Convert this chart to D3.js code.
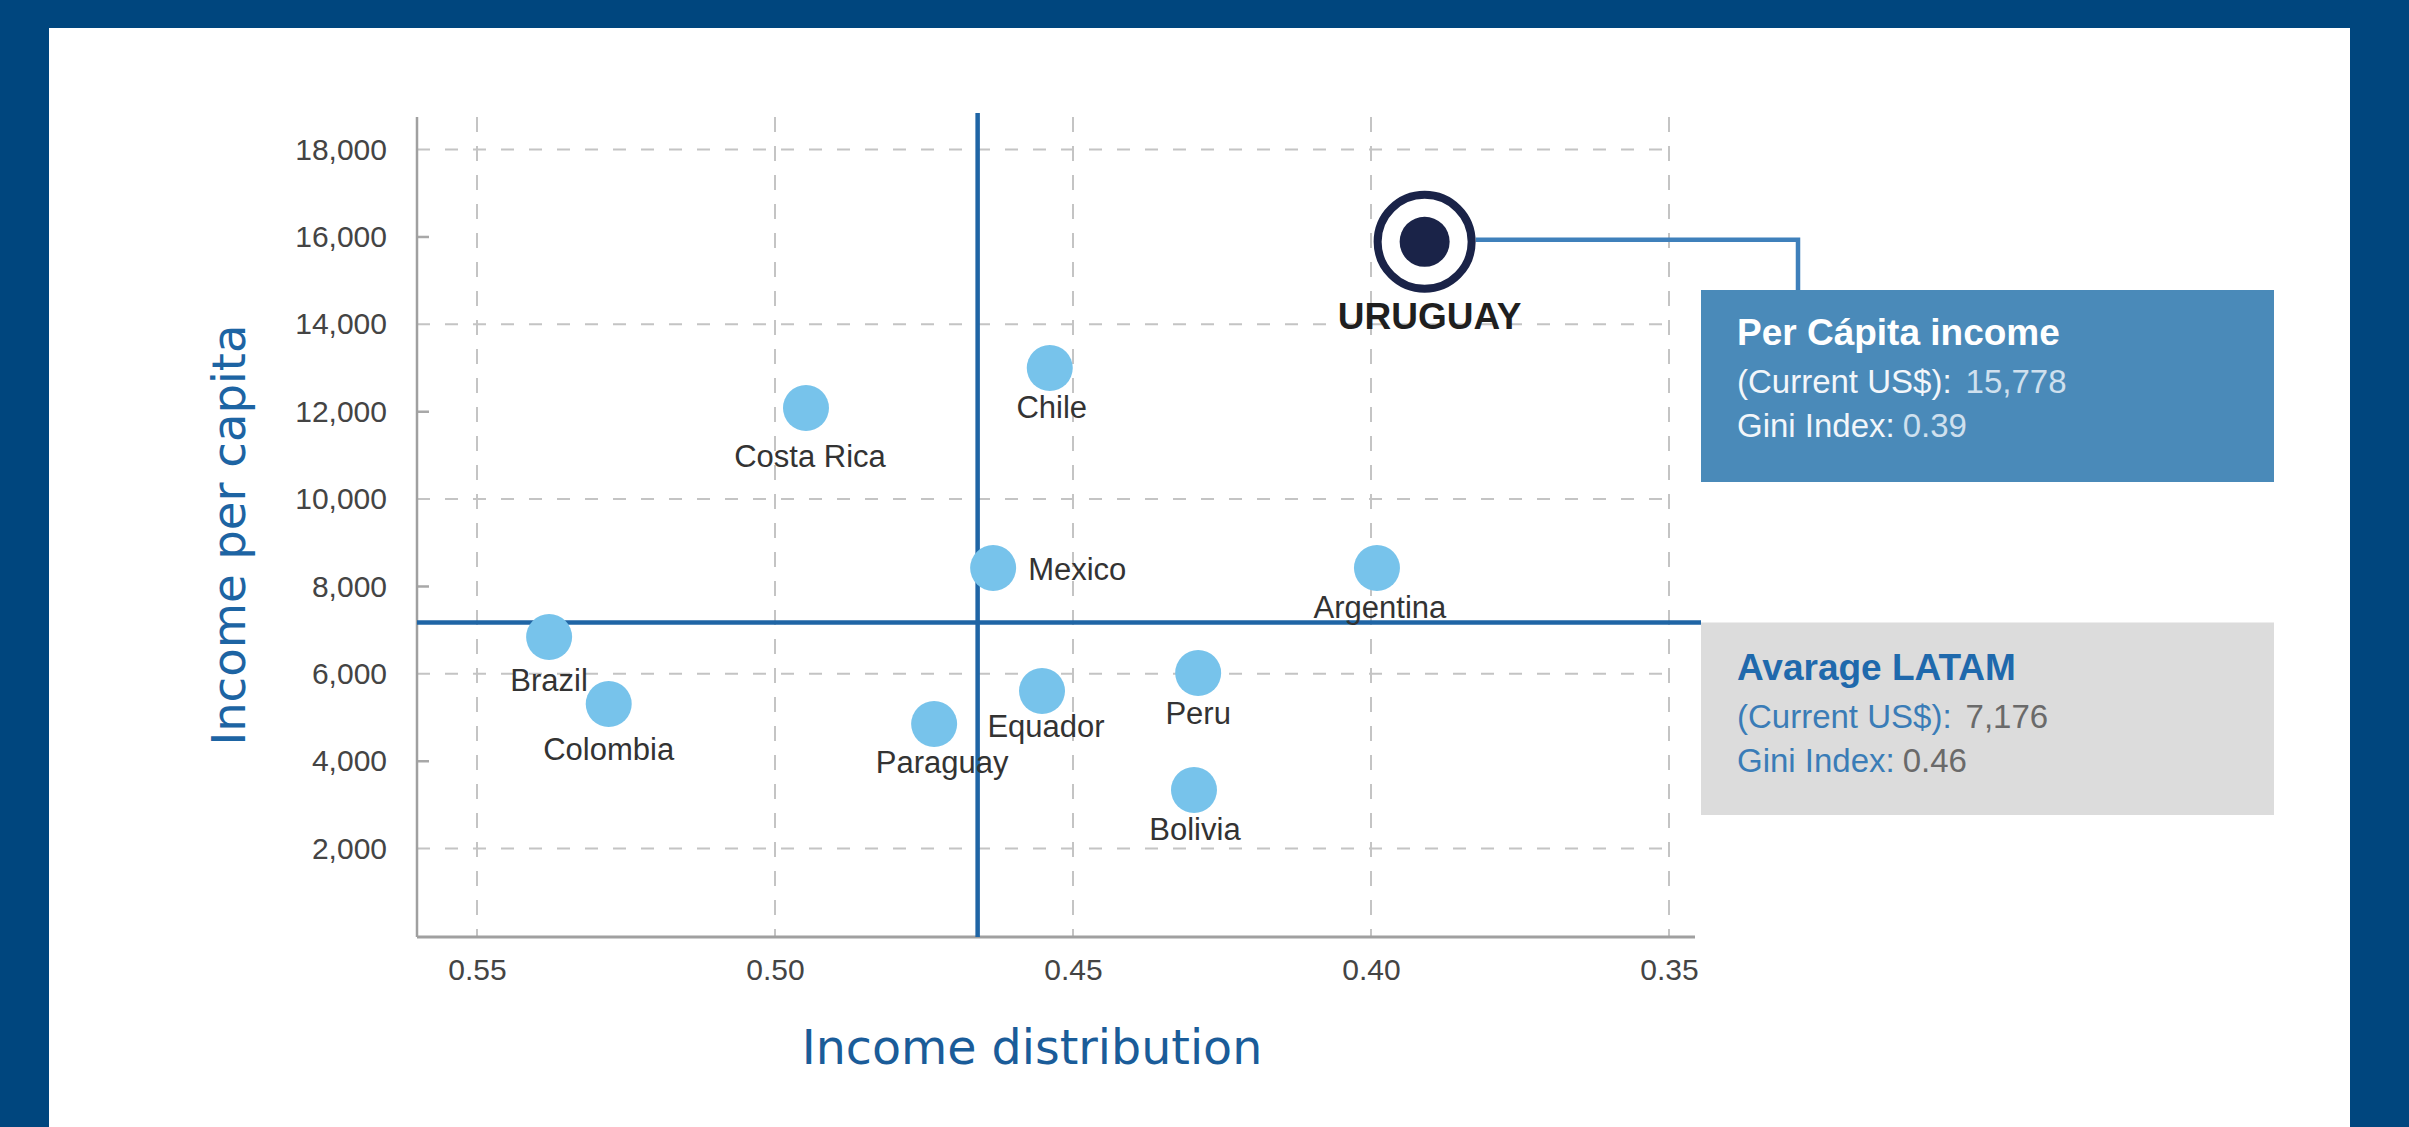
<!DOCTYPE html>
<html>
<head>
<meta charset="utf-8">
<script src="https://cdn.jsdelivr.net/npm/d3@7"></script>
<style>
  html, body { margin: 0; padding: 0; background: #00467E; }
  svg { display: block; }
</style>
</head>
<body>
<svg id="chart" width="2409" height="1127"></svg>
<script>
// ---- data ----
const countries = ["Uruguay","Chile","Costa Rica","Mexico","Argentina","Brazil","Colombia","Paraguay","Equador","Peru","Bolivia"];
const labels    = ["URUGUAY","Chile","Costa Rica","Mexico","Argentina","Brazil","Colombia","Paraguay","Equador","Peru","Bolivia"];
const gini      = [0.391, 0.4539, 0.4948, 0.4634, 0.399, 0.5379, 0.5279, 0.4733, 0.4552, 0.429, 0.4297];
const income    = [15890, 13001, 12085, 8423, 8423, 6844, 5310, 4852, 5608, 6020, 3342];
const xTicks    = [0.55, 0.50, 0.45, 0.40, 0.35];
const yTicks    = [2000, 4000, 6000, 8000, 10000, 12000, 14000, 16000, 18000];
const yGridTicks = [2000, 6000, 10000, 14000, 18000];
const avgIncome = 7176;
const avgGini   = 0.466;
const highlight = "Uruguay";
const uruguayBox = { title: "Per Cápita income", l1: "(Current US$):", v1: "15,778", l2: "Gini Index:", v2: "0.39" };
const latamBox   = { title: "Avarage LATAM",     l1: "(Current US$):", v1: "7,176",  l2: "Gini Index:", v2: "0.46" };
const xTitle = "Income distribution";
const yTitle = "Income per capita";

// label placement (offset from the dot centre, in px)
const labelPlacement = {
  "Uruguay":[5,87,"middle"], "Chile":[2,50,"middle"], "Costa Rica":[4,59,"middle"],
  "Mexico":[35,12,"start"], "Argentina":[3,50,"middle"], "Brazil":[0,54,"middle"],
  "Colombia":[0,56,"middle"], "Paraguay":[8,49,"middle"], "Equador":[4,46,"middle"],
  "Peru":[0,51,"middle"], "Bolivia":[1,50,"middle"]
};

// ---- layout ----
const svg = d3.select("#chart");
const W = 2409, H = 1127;
svg.append("rect").attr("width", W).attr("height", H).attr("fill", "#00467E");
svg.append("rect").attr("x", 49).attr("y", 28).attr("width", 2350 - 49).attr("height", H - 28).attr("fill", "#ffffff");

const x = d3.scaleLinear().domain([0.55, 0.35]).range([477, 1669]);
const y = d3.scaleLinear().domain([0, 18000]).range([936, 149.6]);
const plotLeft = 417, plotRight = 1695, plotTop = 117, plotBottom = 937;

const FONT = "'Liberation Sans', Arial, sans-serif";
const grid = svg.append("g");

// vertical dashed gridlines
grid.selectAll("line.vg").data(xTicks).join("line")
  .attr("x1", d => x(d)).attr("x2", d => x(d))
  .attr("y1", plotTop).attr("y2", plotBottom)
  .attr("stroke", "#c4c4c4").attr("stroke-width", 2).attr("stroke-dasharray", "15,14");
// horizontal dashed gridlines
grid.selectAll("line.hg").data(yGridTicks).join("line")
  .attr("x1", plotLeft).attr("x2", x(0.35))
  .attr("y1", d => y(d)).attr("y2", d => y(d))
  .attr("stroke", "#c4c4c4").attr("stroke-width", 2).attr("stroke-dasharray", "13,15");

// y axis
const yAxis = d3.axisLeft(y).tickValues(yTicks).tickFormat(d3.format(",")).tickSize(0).tickPadding(30);
const yg = svg.append("g").attr("transform", `translate(${plotLeft},0)`).call(yAxis);
yg.select(".domain").remove();
yg.selectAll("text").attr("font-family", FONT).attr("font-size", 30).attr("fill", "#444");
// minor solid ticks
svg.selectAll("line.mt").data(yTicks.filter(t => !yGridTicks.includes(t))).join("line")
  .attr("x1", plotLeft).attr("x2", plotLeft + 12)
  .attr("y1", d => y(d)).attr("y2", d => y(d))
  .attr("stroke", "#a8a8a8").attr("stroke-width", 2.5);
svg.append("line").attr("x1", plotLeft).attr("x2", plotLeft).attr("y1", plotTop).attr("y2", plotBottom)
  .attr("stroke", "#a0a0a0").attr("stroke-width", 2.5);

// x axis
const xAxis = d3.axisBottom(x).tickValues(xTicks).tickFormat(d3.format(".2f")).tickSize(0).tickPadding(22);
const xg = svg.append("g").attr("transform", `translate(0,${plotBottom})`).call(xAxis);
xg.select(".domain").remove();
xg.selectAll("text").attr("font-family", FONT).attr("font-size", 30).attr("fill", "#444");
svg.append("line").attr("x1", plotLeft).attr("x2", plotRight).attr("y1", plotBottom).attr("y2", plotBottom)
  .attr("stroke", "#a0a0a0").attr("stroke-width", 3);

// boxes
const boxX = 1701, boxW = 573;
svg.append("rect").attr("x", boxX).attr("y", 290).attr("width", boxW).attr("height", 192).attr("fill", "#4A8AB9");
svg.append("rect").attr("x", boxX).attr("y", y(avgIncome)).attr("width", boxW).attr("height", 815 - y(avgIncome)).attr("fill", "#DCDCDC");

// average lines
svg.append("line").attr("x1", plotLeft).attr("x2", boxX).attr("y1", y(avgIncome)).attr("y2", y(avgIncome))
  .attr("stroke", "#1F65A5").attr("stroke-width", 4.5);
svg.append("line").attr("x1", x(avgGini)).attr("x2", x(avgGini)).attr("y1", 113).attr("y2", plotBottom)
  .attr("stroke", "#1F65A5").attr("stroke-width", 4.5);

// data
const data = countries.map((c, i) => ({ c, label: labels[i], g: gini[i], v: income[i] }));
const others = data.filter(d => d.c !== highlight);
const hl = data.find(d => d.c === highlight);

// connector from highlight to box
svg.append("path")
  .attr("d", `M${x(hl.g) + 51},${y(hl.v) - 2} H1798 V290`)
  .attr("fill", "none").attr("stroke", "#3F80BB").attr("stroke-width", 4.5);

svg.selectAll("circle.dot").data(others).join("circle")
  .attr("cx", d => x(d.g)).attr("cy", d => y(d.v)).attr("r", 23).attr("fill", "#77C3EB");

svg.append("circle").attr("cx", x(hl.g)).attr("cy", y(hl.v)).attr("r", 47)
  .attr("fill", "#fff").attr("stroke", "#1A2348").attr("stroke-width", 8);
svg.append("circle").attr("cx", x(hl.g)).attr("cy", y(hl.v)).attr("r", 25).attr("fill", "#1A2348");

svg.selectAll("text.lbl").data(data).join("text")
  .attr("x", d => x(d.g) + labelPlacement[d.c][0])
  .attr("y", d => y(d.v) + labelPlacement[d.c][1])
  .attr("text-anchor", d => labelPlacement[d.c][2])
  .attr("font-family", FONT)
  .attr("font-size", d => d.c === highlight ? 37 : 31)
  .attr("font-weight", d => d.c === highlight ? "bold" : "normal")
  .attr("fill", d => d.c === highlight ? "#1f1f1f" : "#333")
  .text(d => d.label);

// box texts
function boxText(b, top, cTitle, cLabel, cVal) {
  const tx = 1737;
  svg.append("text").attr("x", tx).attr("y", top).attr("font-family", FONT).attr("font-size", 37)
    .attr("font-weight", "bold").attr("fill", cTitle).text(b.title);
  const t1 = svg.append("text").attr("x", tx).attr("y", top + 48).attr("font-family", FONT).attr("font-size", 33);
  t1.append("tspan").attr("fill", cLabel).text(b.l1);
  t1.append("tspan").attr("fill", cVal).attr("dx", 14).text(b.v1);
  const t2 = svg.append("text").attr("x", tx).attr("y", top + 92).attr("font-family", FONT).attr("font-size", 33);
  t2.append("tspan").attr("fill", cLabel).text(b.l2);
  t2.append("tspan").attr("fill", cVal).attr("dx", 8).text(b.v2);
}
boxText(uruguayBox, 345, "#ffffff", "#F2F6FA", "#CFE0EE");
boxText(latamBox, 680, "#1F69AC", "#3A7CB7", "#6a6a6a");

// axis titles
svg.append("text").attr("x", 1032).attr("y", 1064).attr("text-anchor", "middle")
  .attr("font-family", "'DejaVu Sans', sans-serif").attr("font-size", 47.5).attr("fill", "#1A5C99").text(xTitle);
svg.append("text").attr("transform", "translate(245,535) rotate(-90)").attr("text-anchor", "middle")
  .attr("font-family", "'DejaVu Sans', sans-serif").attr("font-size", 46.5).attr("fill", "#1D64A3").text(yTitle);
</script>
</body>
</html>
